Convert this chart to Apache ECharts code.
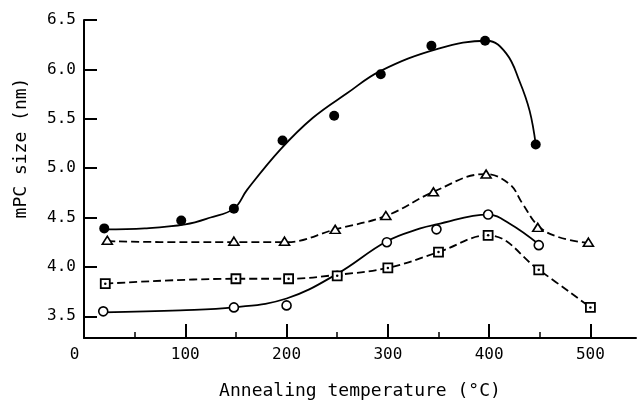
<!DOCTYPE html>
<html>
<head>
<meta charset="utf-8">
<script src="https://cdn.jsdelivr.net/npm/echarts@6/dist/echarts.min.js"></script>
<style>
  html, body { margin: 0; padding: 0; background: #fff; }
  #main { width: 637px; height: 405px; }
</style>
</head>
<body>
<div id="main"></div>
<script>
/* ============================
   DATOS
============================ */
const xTicks = [0, 100, 200, 300, 400, 500];
const xMajor = [100, 200, 300, 400, 500];
const xMinor = [50, 150, 250, 350, 450];
const yTicks = [3.5, 4.0, 4.5, 5.0, 5.5, 6.0, 6.5];

// puntos medidos
const filledPts = [[20, 4.39], [96, 4.47], [148, 4.59], [196, 5.28], [247, 5.53], [293, 5.95], [343, 6.24], [396, 6.29], [446, 5.24]];
const trianglePts = [[23, 4.27], [148, 4.26], [198, 4.26], [248, 4.38], [298, 4.52], [345, 4.76], [397, 4.94], [448, 4.40], [498, 4.25]];
const squarePts = [[21, 3.83], [150, 3.88], [202, 3.88], [250, 3.91], [300, 3.99], [350, 4.15], [399, 4.32], [449, 3.97], [500, 3.59]];
const openPts = [[19, 3.55], [148, 3.59], [200, 3.61], [250, 3.91], [299, 4.25], [348, 4.38], [399, 4.53], [449, 4.22]];

// curvas ajustadas (trazo a mano en la figura)
const filledCurve = [[20, 4.38], [60, 4.39], [100, 4.43], [125, 4.50], [148, 4.59], [161, 4.78], [194, 5.19], [226, 5.51], [260, 5.76], [292, 5.98], [350, 6.21], [398, 6.29], [417, 6.16], [430, 5.88], [440, 5.58], [446, 5.24]];
const openCurve = [[19, 3.54], [95, 3.56], [148, 3.59], [200, 3.68], [250, 3.93], [299, 4.26], [332, 4.39], [348, 4.43], [399, 4.53], [420, 4.44], [449, 4.23]];
const triangleCurve = [[23, 4.26], [100, 4.25], [150, 4.25], [199, 4.25], [248, 4.38], [299, 4.52], [345, 4.76], [396, 4.94], [420, 4.84], [433, 4.64], [449, 4.41], [469, 4.30], [499, 4.24]];
const squareCurve = [[21, 3.83], [150, 3.88], [202, 3.88], [250, 3.92], [300, 3.99], [350, 4.15], [399, 4.32], [449, 3.97], [500, 3.59]];

const FONT = 'DejaVu Sans Mono';

/* ============================
   SERIES
============================ */
function curva(data, dashed) {
    return {
        type: 'line',
        data: data,
        smooth: 0.4,
        symbol: 'none',
        silent: true,
        z: 2,
        lineStyle: { color: '#000', width: 1.8, type: dashed ? [8, 4] : 'solid' }
    };
}

function puntos(data, symbol, size, fill, border) {
    return {
        type: 'scatter',
        data: data,
        symbol: symbol,
        symbolSize: size,
        z: 5,
        itemStyle: { color: fill, borderColor: '#000', borderWidth: border, opacity: 1 }
    };
}

const series = [
    curva(filledCurve, false),
    curva(openCurve, false),
    curva(triangleCurve, true),
    curva(squareCurve, true),
    puntos(filledPts, 'circle', 10, '#000', 0),
    puntos(openPts, 'circle', 9, '#fff', 1.6),
    puntos(trianglePts, 'triangle', [10, 8], '#fff', 1.6),
    puntos(squarePts, 'rect', 9, '#fff', 1.8),
    puntos(squarePts, 'circle', 2.5, '#000', 0)
];

/* ============================
   GRÁFICA
============================ */
const myChart = echarts.init(document.getElementById('main'), null, { renderer: 'canvas' });

const option = {
    backgroundColor: '#fff',
    animation: false,
    grid: { left: 84, right: 1, top: 20, bottom: 62 },
    xAxis: [
        {
            type: 'value',
            min: 0,
            max: 545,
            name: 'Annealing temperature (°C)',
            nameLocation: 'middle',
            nameGap: 44,
            nameTextStyle: { fontFamily: FONT, fontSize: 18, color: '#000' },
            axisLine: { show: true, lineStyle: { color: '#000', width: 2 } },
            axisTick: { show: true, inside: true, length: 14, customValues: xMajor, lineStyle: { color: '#000', width: 2 } },
            axisLabel: {
                customValues: xTicks,
                margin: 9,
                fontFamily: FONT,
                fontSize: 16,
                color: '#000',
                formatter: v => v === 0 ? '{z|0}' : String(v),
                rich: { z: { fontFamily: FONT, fontSize: 16, color: '#000', padding: [0, 19, 0, 0] } }
            },
            splitLine: { show: false }
        },
        {
            type: 'value',
            min: 0,
            max: 545,
            position: 'bottom',
            axisLine: { show: false },
            axisTick: { show: true, inside: true, length: 6, customValues: xMinor, lineStyle: { color: '#000', width: 1.5 } },
            axisLabel: { show: false },
            splitLine: { show: false }
        }
    ],
    yAxis: {
        type: 'value',
        min: 3.28,
        max: 6.5,
        name: 'mPC size (nm)',
        nameLocation: 'middle',
        nameGap: 54,
        nameTextStyle: { fontFamily: FONT, fontSize: 18, color: '#000', padding: [0, 0, 0, 62] },
        axisLine: { show: true, lineStyle: { color: '#000', width: 2 } },
        axisTick: { show: true, inside: true, length: 13, customValues: yTicks, lineStyle: { color: '#000', width: 2 } },
        axisLabel: {
            customValues: yTicks,
            margin: 8,
            fontFamily: FONT,
            fontSize: 16,
            color: '#000',
            formatter: v => v.toFixed(1)
        },
        splitLine: { show: false }
    },
    series: series
};

myChart.setOption(option, true);
window.addEventListener('resize', () => myChart.resize());
</script>
</body>
</html>
